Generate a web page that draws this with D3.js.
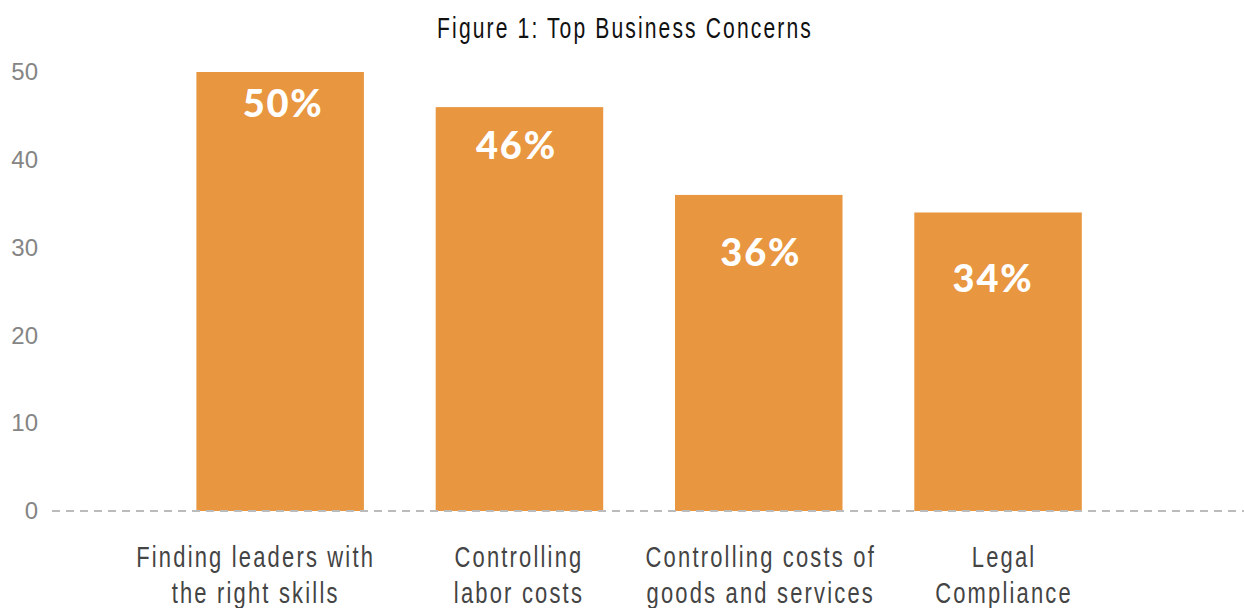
<!DOCTYPE html>
<html>
<head>
<meta charset="utf-8">
<script src="https://cdn.jsdelivr.net/npm/d3@7"></script>
<style>
  html, body { margin: 0; padding: 0; background: #fff; }
  svg { display: block; }
</style>
</head>
<body>
<svg id="chart" width="1244" height="608"></svg>
<script>
// ---- data ----
const title = "Figure 1: Top Business Concerns";
const categories = [
  ["Finding leaders with", "the right skills"],
  ["Controlling", "labor costs"],
  ["Controlling costs of", "goods and services"],
  ["Legal", "Compliance"]
];
const values = [50, 46, 36, 34];
const valueLabels = ["50%", "46%", "36%", "34%"];
const yTicks = [0, 10, 20, 30, 40, 50];

// ---- styling / layout ----
const W = 1244, H = 608;
const barColor = "#E8963F";
const condensedFont = "'Liberation Sans', Arial, sans-serif";
const labelNudgeX = [-24.5, -0.5, 2, 6];   // category label offsets from bar centre
const valueNudge = [{dx: 3, dy: 45}, {dx: -3, dy: 52}, {dx: 2, dy: 71}, {dx: -5, dy: 80}];

const svg = d3.select("#chart");
const keys = categories.map((c, i) => i);

const x = d3.scaleBand().domain(keys).range([160.5, 1117.7])
  .paddingInner(0.3).paddingOuter(0.15);
const y = d3.scaleLinear().domain([0, 50]).range([511, 72]);

// title (condensed by horizontal scaling)
const tg = svg.append("g");
const tt = tg.append("text")
  .attr("text-anchor", "middle")
  .style("font-family", condensedFont)
  .style("font-size", "30px")
  .style("letter-spacing", "3px")
  .style("fill", "#111")
  .text(title);
const tScale = 376 / tt.node().getComputedTextLength();
tg.attr("transform", `translate(625,38) scale(${tScale},1)`);

// y axis tick labels
const yAxis = d3.axisLeft(y).tickValues(yTicks).tickSize(0).tickPadding(0).tickFormat(d3.format("d"));
const yg = svg.append("g").attr("transform", "translate(38,0)").call(yAxis);
yg.select(".domain").remove();
yg.selectAll("text")
  .style("font-family", "'Liberation Sans', Arial, sans-serif")
  .style("font-size", "24px")
  .style("fill", "#858585");

// bars
svg.append("g").selectAll("rect")
  .data(values)
  .join("rect")
  .attr("x", (d, i) => x(i))
  .attr("width", x.bandwidth())
  .attr("y", d => y(d))
  .attr("height", d => y(0) - y(d))
  .attr("fill", barColor);

// zero baseline (dashed)
svg.append("line")
  .attr("x1", 52).attr("x2", W)
  .attr("y1", y(0)).attr("y2", y(0))
  .attr("stroke", "#BBBBBB")
  .attr("stroke-width", 2)
  .attr("stroke-dasharray", "8,6");

// value labels
svg.append("g").selectAll("text")
  .data(values)
  .join("text")
  .attr("x", (d, i) => x(i) + x.bandwidth() / 2 + valueNudge[i].dx)
  .attr("y", (d, i) => y(d) + valueNudge[i].dy)
  .attr("text-anchor", "middle")
  .style("font-family", "Lato, 'Open Sans', sans-serif")
  .style("font-weight", 900)
  .style("font-size", "38px")
  .style("letter-spacing", "1.8px")
  .style("fill", "#fff")
  .text((d, i) => valueLabels[i]);

// category labels (condensed by horizontal scaling)
const cg = svg.append("g").selectAll("g")
  .data(categories)
  .join("g");
const ct = cg.append("text")
  .attr("text-anchor", "middle")
  .style("font-family", condensedFont)
  .style("font-size", "30px")
  .style("letter-spacing", "3px")
  .style("fill", "#444");
ct.selectAll("tspan")
  .data(d => d)
  .join("tspan")
  .attr("x", 0)
  .attr("dy", (d, j) => j === 0 ? 0 : 36)
  .text(d => d);
const firstLine = ct.filter((d, i) => i === 0).select("tspan").node();
const cScale = 239 / firstLine.getComputedTextLength();
cg.attr("transform", (d, i) =>
  `translate(${x(i) + x.bandwidth() / 2 + labelNudgeX[i]},567) scale(${cScale},1)`);
</script>
</body>
</html>
